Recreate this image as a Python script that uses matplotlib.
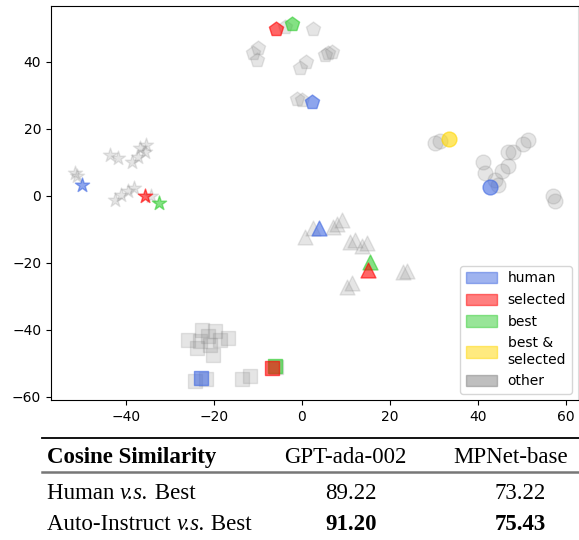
import matplotlib
matplotlib.use("Agg")
import matplotlib.pyplot as plt
import matplotlib.patches as mpatches
from matplotlib.lines import Line2D

# ---------------------------------------------------------------------------
# Data (t-SNE style 2D projection)
# ---------------------------------------------------------------------------

# "other" points, one group per marker shape
star_other_x = [-51.6, -51.1, -43.6, -41.8, -38.7, -37.2, -35.7, -36.8, -35.5,
                -42.5, -41.0, -39.5, -38.2, -34.2]
star_other_y = [6.9, 5.8, 12.2, 11.3, 10.2, 11.7, 13.2, 14.2, 15.2,
                -1.2, 0.3, 1.3, 2.3, -0.2]

pent_other_x = [-3.9, 2.4, -11.1, -9.9, -10.3, -0.5, 0.9, 5.2, 6.0, 6.8, -1.2, -0.1]
pent_other_y = [50.5, 49.8, 42.6, 44.1, 40.6, 38.1, 40.1, 42.1, 42.6, 43.1, 29.0, 28.7]

circ_other_x = [30.2, 31.4, 41.2, 41.6, 43.9, 44.6, 45.4, 46.9, 46.9, 48.0, 50.3,
                51.4, 57.1, 57.5]
circ_other_y = [15.7, 16.5, 10.2, 6.8, 4.8, 3.3, 7.3, 8.8, 13.2, 13.2, 15.5,
                16.7, 0.0, -1.5]

tri_other_x = [0.7, 2.6, 7.1, 8.0, 9.0, 10.9, 12.0, 13.6, 14.8, 10.2, 11.3, 23.0, 23.8]
tri_other_y = [-12.3, -9.6, -9.2, -8.5, -7.2, -13.9, -13.1, -15.1, -14.1,
               -27.1, -26.1, -22.9, -22.5]

sq_other_x = [-25.8, -22.8, -19.8, -16.7, -23.9, -21.3, -20.2, -23.2, -20.9, -18.6,
              -24.3, -21.7, -13.7, -11.8, -5.8]
sq_other_y = [-43.0, -40.0, -40.5, -42.5, -45.5, -42.0, -47.5, -43.5, -44.5, -43.2,
              -55.4, -54.7, -54.7, -53.9, -51.1]

# highlighted points
human_x = [-49.9, 2.3, 42.7, 3.9, -23.0]
human_y = [3.1, 28.0, 2.5, -9.6, -54.4]
human_m = ["*", "p", "o", "^", "s"]

best_x = [-32.4, -2.2, 15.5, -6.1]
best_y = [-2.2, 51.3, -19.9, -50.9]
best_m = ["*", "p", "^", "s"]

sel_x = [-35.7, -5.9, 14.9, -6.7]
sel_y = [0.0, 49.9, -22.1, -51.4]
sel_m = ["*", "p", "^", "s"]

bestsel_x = [33.4]
bestsel_y = [16.9]
bestsel_m = ["o"]

# table: row labels as (text, italic) pieces
tbl_header = ["Cosine Similarity", "GPT-ada-002", "MPNet-base"]
tbl_rows = [[("Human ", False), ("v.s.", True), (" Best", False)],
            [("Auto-Instruct ", False), ("v.s.", True), (" Best", False)]]
tbl_gpt = ["89.22", "91.20"]
tbl_mpnet = ["73.22", "75.43"]

# ---------------------------------------------------------------------------
# Theme
# ---------------------------------------------------------------------------
_HUMAN = "royalblue"
_SEL = "red"
_BEST = "limegreen"
_BSEL = "gold"
_OTHER = "gray"
_S = 115
_SERIF = "Liberation Serif"
_FS = 16.5

W, H = 579, 540
fig = plt.figure(figsize=(W / 100, H / 100), dpi=100)
ax = fig.add_axes([51 / W, 1 - 400 / H, (578 - 51) / W, (400 - 6) / H])

# ---- scatter ----
for xs, ys, m in [(star_other_x, star_other_y, "*"), (pent_other_x, pent_other_y, "p"),
                  (circ_other_x, circ_other_y, "o"), (tri_other_x, tri_other_y, "^"),
                  (sq_other_x, sq_other_y, "s")]:
    ax.scatter(xs, ys, marker=m, s=_S, color=_OTHER, alpha=0.2)

for xs, ys, ms, c in [(human_x, human_y, human_m, _HUMAN), (best_x, best_y, best_m, _BEST),
                      (sel_x, sel_y, sel_m, _SEL), (bestsel_x, bestsel_y, bestsel_m, _BSEL)]:
    for x, y, m in zip(xs, ys, ms):
        ax.scatter([x], [y], marker=m, s=_S, color=c, alpha=0.6)

ax.set_xlim(-57, 62.7)
ax.set_ylim(-61, 56.7)
ax.set_xticks([-40, -20, 0, 20, 40, 60])
ax.set_yticks([-60, -40, -20, 0, 20, 40])
ax.tick_params(labelsize=10)
ax.spines["right"].set_color("#dddddd")

handles = [mpatches.Patch(color=_HUMAN, alpha=0.5, label="human"),
           mpatches.Patch(color=_SEL, alpha=0.5, label="selected"),
           mpatches.Patch(color=_BEST, alpha=0.5, label="best"),
           mpatches.Patch(color=_BSEL, alpha=0.5, label="best &\nselected"),
           mpatches.Patch(color=_OTHER, alpha=0.5, label="other")]
ax.legend(handles=handles, loc="lower right", fontsize=10, handlelength=2.2,
          handleheight=0.9, borderaxespad=0.45, labelspacing=0.55)

# ---- table below the plot ----
def fx(px):
    return px / W

def fy(py):
    return 1 - py / H

fig.add_artist(Line2D([fx(42), fx(579)], [fy(438), fy(438)], color="black", lw=1.3))
fig.add_artist(Line2D([fx(42), fx(579)], [fy(472), fy(472)], color="#777777", lw=1.8))

fig.text(fx(47), fy(463), tbl_header[0], family=_SERIF, fontsize=_FS,
         fontweight="bold", va="baseline")
fig.text(fx(345), fy(463), tbl_header[1], family=_SERIF, fontsize=_FS,
         ha="center", va="baseline")
fig.text(fx(511), fy(463), tbl_header[2], family=_SERIF, fontsize=_FS,
         ha="center", va="baseline")

renderer = fig.canvas.get_renderer()
for i, (pieces, g, m) in enumerate(zip(tbl_rows, tbl_gpt, tbl_mpnet)):
    y = fy(499 + i * 31)
    bold = "bold" if i == 1 else "normal"
    x = 47
    for txt, italic in pieces:
        t = fig.text(fx(x), y, txt, family=_SERIF, fontsize=_FS, va="baseline",
                     style="italic" if italic else "normal")
        x += t.get_window_extent(renderer).width
    fig.text(fx(351), y, g, family=_SERIF, fontsize=_FS, ha="center", va="baseline",
             fontweight=bold)
    fig.text(fx(520), y, m, family=_SERIF, fontsize=_FS, ha="center", va="baseline",
             fontweight=bold)

fig.savefig("out.png", dpi=100, facecolor="white")
plt.close(fig)
